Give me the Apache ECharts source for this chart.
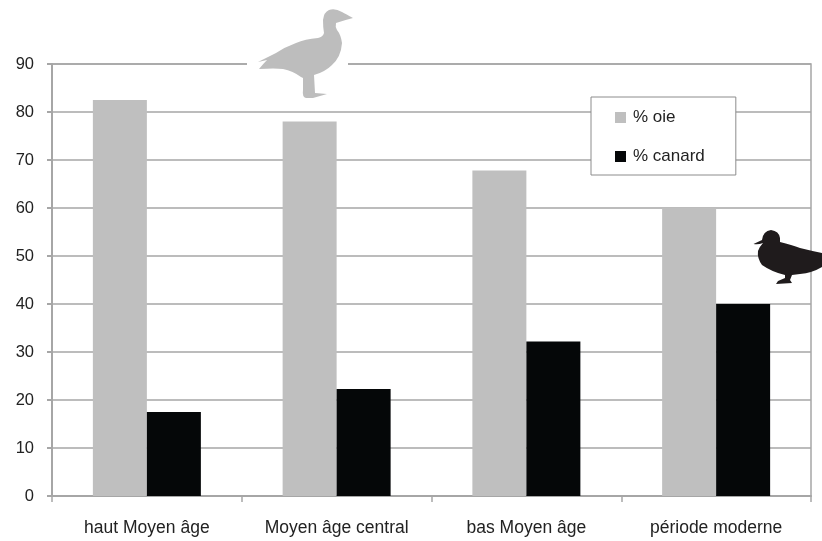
<!DOCTYPE html>
<html>
<head>
<meta charset="utf-8">
<title>% oie / % canard</title>
<script src="https://cdn.jsdelivr.net/npm/echarts@6/dist/echarts.min.js"></script>
<style>
html, body { margin: 0; padding: 0; background: #fff; }
#chart { width: 822px; height: 541px; }
</style>
</head>
<body>
<div id="chart"></div>
<script>
var categories = ['haut Moyen âge', 'Moyen âge central', 'bas Moyen âge', 'période moderne'];
var oie = [82.5, 78, 67.8, 60];
var canard = [17.5, 22.3, 32.2, 40];

// silhouettes traced by hand, page pixels
var goosePath = 'M353 18 Q346 14 342 12 Q335 8 329 10 Q324 12 323 20 Q323 28 324 33 Q323 37 318 38 Q305 39 296 43 Q285 47 276 53 Q268 57 258 62 L267 60 Q264 63 259 69 Q275 68 283 69 Q293 71 301 77 L303 78 L303 90 Q302 97 306 98 L313 98 L327 94 L315 93 L314 75 Q325 72 332 65 Q341 57 342 43 Q341 35 337 30 Q335 27 336 23 Q345 20 353 18 Z';
var duckPath = 'M753.5 244 L762 240 Q763 231 771 230 Q779 231 780 238 Q780 241 780 242 Q792 245 800 248 Q812 251 822 253 L822 267 Q812 273 800 274 L792 275 L790 280 L792 283 L776 284 L778 281 L785 278 L785 275 Q772 272 762 265 Q757 258 758 251 Q760 246 763 243 Q758 245 753.5 244 Z';

// graphic component has no plain path type, so register them as shapes
echarts.graphic.registerShape('goose', echarts.graphic.extendPath(goosePath, {}));
echarts.graphic.registerShape('duck', echarts.graphic.extendPath(duckPath, {}));

var chart = echarts.init(document.getElementById('chart'));
var font = '"Liberation Sans", Arial, sans-serif';
var lineColor = '#a6a6a6';
var option = {
	animation: false,
	backgroundColor: '#fff',
	textStyle: { fontFamily: font },
	grid: { show: true, left: 52, right: 11, top: 64, bottom: 45, borderColor: lineColor, borderWidth: 1.5 },
	legend: {
		orient: 'vertical',
		left: 591,
		top: 97,
		padding: [12, 31, 10, 24],
		itemGap: 22,
		itemWidth: 11,
		itemHeight: 11,
		icon: 'rect',
		backgroundColor: '#fff',
		borderColor: '#8c8c8c',
		borderWidth: 1,
		z: 10,
		textStyle: { fontSize: 17, color: '#222', fontFamily: font, padding: [0, 0, 0, 2] },
		data: ['% oie', '% canard']
	},
	xAxis: {
		type: 'category',
		data: categories,
		axisLine: { lineStyle: { color: lineColor, width: 2 } },
		axisTick: { show: true, alignWithLabel: false, length: 6, lineStyle: { color: lineColor, width: 1.5 } },
		axisLabel: { fontSize: 17.5, color: '#222', margin: 23 }
	},
	yAxis: {
		type: 'value',
		min: 0,
		max: 90,
		interval: 10,
		axisLine: { show: true, lineStyle: { color: lineColor, width: 2 } },
		axisTick: { show: true, length: 5, lineStyle: { color: lineColor, width: 2 } },
		axisLabel: { fontSize: 16.5, color: '#222', margin: 18 },
		splitLine: { lineStyle: { color: lineColor, width: 1.5 } }
	},
	series: [
		{
			name: '% oie',
			type: 'bar',
			data: oie,
			barWidth: 54,
			barGap: 0,
			itemStyle: { color: '#bfbfbf' }
		},
		{
			name: '% canard',
			type: 'bar',
			data: canard,
			barWidth: 54,
			itemStyle: { color: '#050708' }
		}
	],
	graphic: [
		// white gap in the top border behind the goose
		{ type: 'rect', z: 20, shape: { x: 247, y: 58, width: 101, height: 12 }, style: { fill: '#fff' } },
		{ type: 'goose', z: 21, style: { fill: '#bdbdbd' } },
		{ type: 'duck', z: 21, style: { fill: '#1f1b1c' } }
	]
};
chart.setOption(option);
</script>
</body>
</html>
